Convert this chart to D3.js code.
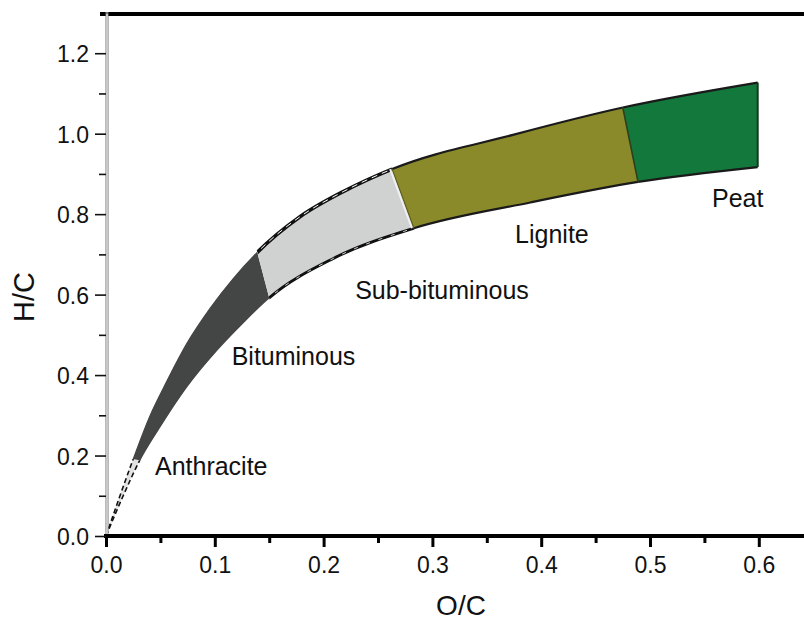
<!DOCTYPE html>
<html><head><meta charset="utf-8">
<script src="https://cdn.jsdelivr.net/npm/d3@7"></script>
<style>
body{margin:0;background:#fff}
svg{display:block}
text{font-family:"Liberation Sans",Arial,sans-serif;fill:#111}
</style>
</head><body>
<svg id="c" width="804" height="622"></svg>
<script>
// ---------- data ----------
const upperOC = [0.000, 0.025, 0.040, 0.056, 0.074, 0.096, 0.117, 0.139, 0.178, 0.218, 0.263, 0.374, 0.475, 0.599];
const upperHC = [0.000, 0.191, 0.296, 0.385, 0.477, 0.567, 0.640, 0.705, 0.793, 0.856, 0.912, 0.997, 1.065, 1.127];
const lowerOC = [0.000, 0.015, 0.031, 0.050, 0.074, 0.102, 0.126, 0.150, 0.209, 0.283, 0.390, 0.489, 0.599];
const lowerHC = [0.000, 0.095, 0.188, 0.273, 0.370, 0.462, 0.530, 0.592, 0.690, 0.765, 0.829, 0.880, 0.917];
const rankNames = ["Anthracite", "Bituminous", "Sub-bituminous", "Lignite", "Peat"];
// rank boundaries: index into upper / lower boundary arrays
const dividerUpperIdx = [1, 7, 10, 12];
const dividerLowerIdx = [2, 7, 9, 11];
const labelOC = [0.045, 0.1155, 0.229, 0.376, 0.557];
const labelHC = [0.152, 0.425, 0.589, 0.728, 0.818];
const xTicks = [0.0, 0.1, 0.2, 0.3, 0.4, 0.5, 0.6];
const xMinorTicks = [0.05, 0.15, 0.25, 0.35, 0.45, 0.55];
const yTicks = [0.0, 0.2, 0.4, 0.6, 0.8, 1.0, 1.2];
const yMinorTicks = [0.1, 0.3, 0.5, 0.7, 0.9, 1.1];
const xTitle = "O/C", yTitle = "H/C";

// ---------- styles ----------
const rankColors = ["#e2e2e2", "#444545", "#d0d1d1", "#8a8a2b", "#13783b"];

const W = 804, H = 622;
const svg = d3.select("#c");
const x = d3.scaleLinear().domain([0, 0.65]).range([106, 106 + 0.65 * 1088]);
const y = d3.scaleLinear().domain([0, 1.295]).range([536, 15]);

const up = upperOC.map((v, i) => [x(v), y(upperHC[i])]);
const lo = lowerOC.map((v, i) => [x(v), y(lowerHC[i])]);
const line = d3.line().curve(d3.curveMonotoneX);
const upperPath = line(up);
const lowerPath = line(lo);
const bandPath = upperPath + "L" + line(lo.slice().reverse()).slice(1) + "Z";

// divider lines, extended to build clip regions
const E = 150;
const divs = dividerUpperIdx.map((ui, k) => {
  const u = up[ui], l = lo[dividerLowerIdx[k]];
  const dx = l[0] - u[0], dy = l[1] - u[1], len = Math.hypot(dx, dy);
  const ux = dx / len, uy = dy / len;
  return {u, l, uFar: [u[0] - E * ux, u[1] - E * uy], lFar: [l[0] + E * ux, l[1] + E * uy]};
});
const polys = [];
polys.push([[x(0) - 60, y(0) + 60], divs[0].uFar, divs[0].lFar]);
for (let k = 0; k < divs.length - 1; k++) {
  polys.push([divs[k].lFar, divs[k].uFar, divs[k + 1].uFar, divs[k + 1].lFar]);
}
const last = divs[divs.length - 1];
polys.push([last.lFar, last.uFar, [W + 60, last.uFar[1]], [W + 60, last.lFar[1]]]);

const defs = svg.append("defs");
polys.forEach((p, i) => {
  defs.append("clipPath").attr("id", "rc" + i)
    .append("polygon").attr("points", p.map(d => d.join(",")).join(" "));
});

// fills
const gBand = svg.append("g");
rankNames.forEach((n, i) => {
  gBand.append("path").attr("d", bandPath).attr("fill", rankColors[i])
    .attr("clip-path", `url(#rc${i})`);
});

// outlines
function edge(d, clip, stroke, w, dash) {
  const p = gBand.append("path").attr("d", d).attr("fill", "none")
    .attr("stroke", stroke).attr("stroke-width", w).attr("clip-path", `url(#rc${clip})`);
  if (dash) p.attr("stroke-dasharray", dash);
  return p;
}
// anthracite dashed edges
edge(upperPath, 0, "#111", 1.6, "5,3");
edge(lowerPath, 0, "#111", 1.6, "5,3");
// bituminous soft edge
edge(upperPath, 1, rankColors[1], 1.2);
edge(lowerPath, 1, rankColors[1], 1.2);
// sub-bituminous edges: black with white dashes
edge(upperPath, 2, "#111", 3.6);
edge(upperPath, 2, "#fff", 1, "6,5");
edge(lowerPath, 2, "#111", 2.8);
edge(lowerPath, 2, "#fff", 0.8, "4,9");
// lignite and peat
[3, 4].forEach(i => { edge(upperPath, i, "#1a1a1a", 2.2); edge(lowerPath, i, "#1a1a1a", 2.2); });
gBand.append("line").attr("x1", up[up.length - 1][0]).attr("y1", up[up.length - 1][1])
  .attr("x2", lo[lo.length - 1][0]).attr("y2", lo[lo.length - 1][1])
  .attr("stroke", "#123a20").attr("stroke-width", 2);
// dividers
gBand.append("line").attr("x1", divs[3].u[0]).attr("y1", divs[3].u[1])
  .attr("x2", divs[3].l[0]).attr("y2", divs[3].l[1])
  .attr("stroke", "#2f3e1c").attr("stroke-width", 1.6);
gBand.append("line").attr("x1", divs[2].u[0]).attr("y1", divs[2].u[1])
  .attr("x2", divs[2].l[0]).attr("y2", divs[2].l[1])
  .attr("stroke", "#5c5c1e").attr("stroke-width", 1.2);
gBand.append("line").attr("x1", divs[2].u[0] - 2).attr("y1", divs[2].u[1])
  .attr("x2", divs[2].l[0] - 2).attr("y2", divs[2].l[1])
  .attr("stroke", "#eef0f2").attr("stroke-width", 2);

// rank labels
svg.append("g").selectAll("text").data(rankNames).join("text")
  .attr("x", (d, i) => x(labelOC[i])).attr("y", (d, i) => y(labelHC[i]))
  .attr("font-size", 25).text(d => d);

// ---------- axes ----------
// frame lines
svg.append("line").attr("x1", 100).attr("x2", W).attr("y1", 14).attr("y2", 14)
  .attr("stroke", "#000").attr("stroke-width", 4);
svg.append("line").attr("x1", 107).attr("x2", 107).attr("y1", 12).attr("y2", 538)
  .attr("stroke", "#777").attr("stroke-width", 3);
svg.append("line").attr("x1", 107).attr("x2", 107).attr("y1", 14).attr("y2", 534)
  .attr("stroke", "#fff").attr("stroke-width", 1.2);

const gx = svg.append("g").attr("transform", `translate(0,${y(0)})`)
  .call(d3.axisBottom(x).tickValues(xTicks).tickSize(11).tickPadding(10).tickFormat(d3.format(".1f")));
const gxm = svg.append("g").attr("transform", `translate(0,${y(0)})`)
  .call(d3.axisBottom(x).tickValues(xMinorTicks).tickSize(7).tickFormat(""));
[gx, gxm].forEach(g => {
  g.select(".domain").remove();
  g.selectAll(".tick line").attr("stroke", "#000").attr("stroke-width", 3);
});
gx.selectAll(".tick text").attr("font-size", 23).attr("fill", "#111")
  .attr("font-family", '"Liberation Sans",Arial,sans-serif');
svg.append("line").attr("x1", 104).attr("x2", W).attr("y1", y(0)).attr("y2", y(0))
  .attr("stroke", "#000").attr("stroke-width", 4);

const gy = svg.append("g").attr("transform", `translate(106,0)`)
  .call(d3.axisLeft(y).tickValues(yTicks).tickSize(11).tickPadding(6).tickFormat(d3.format(".1f")));
const gym = svg.append("g").attr("transform", `translate(106,0)`)
  .call(d3.axisLeft(y).tickValues(yMinorTicks).tickSize(7).tickFormat(""));
[gy, gym].forEach(g => {
  g.select(".domain").remove();
  g.selectAll(".tick line").attr("stroke", "#111").attr("stroke-width", 1.6);
});
gy.selectAll(".tick text").attr("font-size", 23).attr("fill", "#111").attr("dy", "0.38em")
  .attr("font-family", '"Liberation Sans",Arial,sans-serif');

// titles
svg.append("text").attr("x", 461).attr("y", 615).attr("text-anchor", "middle")
  .attr("font-size", 28).text(xTitle);
svg.append("text").attr("transform", "translate(34,297) rotate(-90)")
  .attr("text-anchor", "middle").attr("font-size", 29).text(yTitle);
</script>
</body></html>
